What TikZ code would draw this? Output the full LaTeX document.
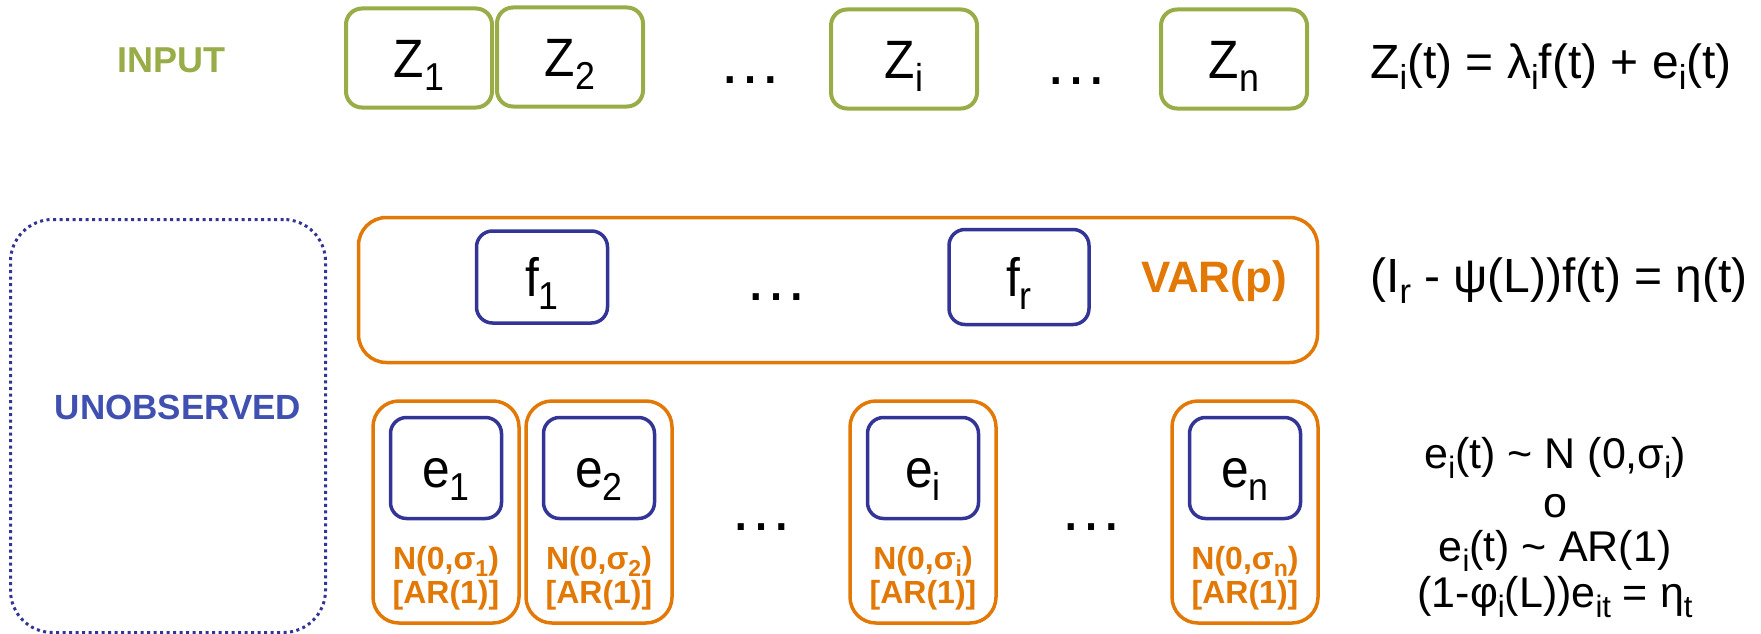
\documentclass[tikz,border=0pt]{standalone}
\usepackage{fontspec}
\setmainfont{Liberation Sans}
\newfontfamily\narrowfont{Liberation Sans}[FakeStretch=0.92]
\definecolor{cgreen}{RGB}{152,173,72}
\definecolor{corange}{RGB}{226,120,5}
\definecolor{cblue}{RGB}{50,52,150}
\definecolor{clblue}{RGB}{64,80,176}
\newcommand\lsub[1]{\raisebox{-0.24em}{\scalebox{0.72}{#1}}}
\tikzset{
  lbl/.style={font=\narrowfont\fontsize{54}{58}\selectfont, text height=39pt, text depth=0pt},
  zbox/.style={draw=cgreen, line width=4pt, rounded corners=16pt, minimum width=146pt, minimum height=99pt, inner sep=0pt, lbl},
  bbox/.style={draw=cblue, line width=3.5pt, rounded corners=16pt, inner sep=0pt, lbl},
  obox/.style={draw=corange, line width=3.5pt, rounded corners=26pt, inner sep=0pt},
  olab/.style={text=corange, font=\bfseries\fontsize{32}{35}\selectfont, inner sep=0pt, anchor=base},
  dotsn/.style={font=\fontsize{64}{66}\selectfont, inner sep=0pt},
  eqn/.style={font=\fontsize{48}{52}\selectfont, inner sep=0pt, anchor=base west},
  eqb/.style={font=\fontsize{43}{46}\selectfont, inner sep=0pt, anchor=base},
}
\begin{document}
\begin{tikzpicture}[x=1pt,y=-1pt]
\useasboundingbox (0,0) rectangle (1761,634);
% input row
\node[text=cgreen, font=\bfseries\fontsize{36}{40}\selectfont, inner sep=0pt, anchor=base] (input) at (171,73) {INPUT};
\node[zbox] (z1) at (419,58) {Z\lsub{1}};
\node[zbox] (z2) at (570,57) {Z\lsub{2}};
\node[dotsn] (d1) at (750,80) {\textellipsis};
\node[zbox] (zi) at (904,59) {Z\lsub{i}};
\node[dotsn] (d2) at (1076,81) {\textellipsis};
\node[zbox] (zn) at (1234,59) {Z\lsub{n}};
\node[eqn] (eqz) at (1370,78) {Z\lsub{i}(t) = λ\lsub{i}f(t) + e\lsub{i}(t)};
% unobserved
\node[draw=cblue, line width=3pt, dash pattern=on 3pt off 3.5pt, rounded corners=42pt, minimum width=315pt, minimum height=413pt] (unobs) at (168,426) {};
\node[text=clblue, font=\bfseries\fontsize{35}{38}\selectfont, inner sep=0pt, anchor=base] (unobslab) at (178,419) {UNOBSERVED};
% VAR box
\node[obox, rounded corners=28pt, minimum width=959pt, minimum height=145pt] (var) at (838,290) {};
\node[bbox, minimum width=131pt, minimum height=92pt] (f1) at (542,277) {f\lsub{1}};
\node[dotsn] (d3) at (776,297) {\textellipsis};
\node[bbox, minimum width=140pt, minimum height=95pt] (fr) at (1019,277) {f\lsub{r}};
\node[text=corange, font=\bfseries\fontsize{44}{47}\selectfont, inner sep=0pt, anchor=base] (varp) at (1214,292) {VAR(p)};
\node[eqn] (eqf) at (1370,292) {(I\lsub{r} - ψ(L))f(t) = η(t)};
% e boxes
\foreach \n/\x/\s in {e1/446/1, e2/599/2, ei/923/i, en/1245/n}{
  \node[obox, minimum width=146pt, minimum height=222pt] (o\n) at (\x,512) {};
  \node[bbox, minimum width=111pt, minimum height=101pt] (\n) at (\x,468) {e\lsub{\s}};
  \node[olab] (l\n) at (\x,569) {N(0,σ\lsub{\s})};
  \node[olab] (a\n) at (\x,603) {[AR(1)]};
}
\node[dotsn] (d4) at (761,527) {\textellipsis};
\node[dotsn] (d5) at (1091,527) {\textellipsis};
\node[eqb] (eq1) at (1555,468) {e\lsub{i}(t) \textasciitilde\ N (0,σ\lsub{i})};
\node[eqb] (eq2) at (1555,517) {o};
\node[eqb] (eq3) at (1555,561) {e\lsub{i}(t) \textasciitilde\ AR(1)};
\node[eqb] (eq4) at (1555,607) {(1-φ\lsub{i}(L))e\lsub{it} = η\lsub{t}};
\end{tikzpicture}
\end{document}
